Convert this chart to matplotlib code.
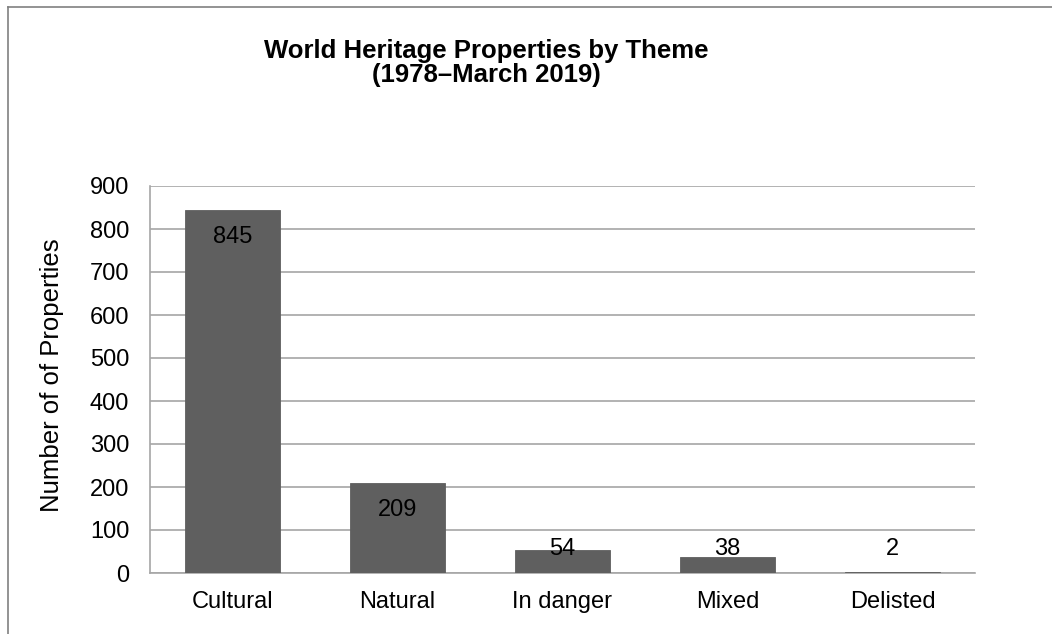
import matplotlib.pyplot as plt
from matplotlib.lines import Line2D

plt.rcParams['font.family'] = ['Liberation Sans', 'DejaVu Sans']

categories = ['Cultural', 'Natural', 'In danger', 'Mixed', 'Delisted']
counts = [845, 209, 54, 38, 2]
yticks = [0, 100, 200, 300, 400, 500, 600, 700, 800, 900]

W, H = 1052, 634
fig = plt.figure(figsize=(W / 100, H / 100), dpi=100)
ax = fig.add_axes([150 / W, 1 - 573 / H, 825 / W, 387 / H])

x = range(len(categories))
ax.bar(x, counts, width=0.58, color='#5f5f5f', edgecolor='#5f5f5f', linewidth=0.6, zorder=3)
ax.set_xlim(-0.5, len(categories) - 0.5)
ax.set_ylim(0, 900)
ax.set_yticks(yticks)
ax.set_xticks(list(x))
ax.set_xticklabels(categories)
ax.tick_params(axis='both', length=0, labelsize=17, colors='black')
ax.tick_params(axis='x', pad=13)
ax.tick_params(axis='y', pad=15)
ax.yaxis.grid(True, color='#a6a6a6', linewidth=1.2, zorder=0)
for s in ['top', 'right']:
    ax.spines[s].set_visible(False)
for s in ['left', 'bottom']:
    ax.spines[s].set_color('#a6a6a6')
    ax.spines[s].set_linewidth(1.2)

# data labels: inside end, pushed up for short bars
for i, v in enumerate(counts):
    ax.text(i, max(v - 63, 56), str(v), ha='center', va='center', fontsize=17, zorder=5)

ax.set_ylabel('Number of of Properties', fontsize=18.5, va='center')
ax.yaxis.set_label_coords((52 - 150) / 825, 0.51)

fig.text(486 / W, 1 - 51 / H, 'World Heritage Properties by Theme', ha='center', va='center',
         fontsize=18.5, fontweight='bold')
fig.text(486 / W, 1 - 75 / H, '(1978\u2013March 2019)', ha='center', va='center',
         fontsize=18.5, fontweight='bold')

# chart area border (left and top visible)
fig.add_artist(Line2D([8 / W, 8 / W], [0, 1 - 7 / H], transform=fig.transFigure,
                      color='#808080', linewidth=1.2))
fig.add_artist(Line2D([8 / W, 1], [1 - 7 / H, 1 - 7 / H], transform=fig.transFigure,
                      color='#808080', linewidth=1.2))

fig.savefig('out.png', dpi=100)
